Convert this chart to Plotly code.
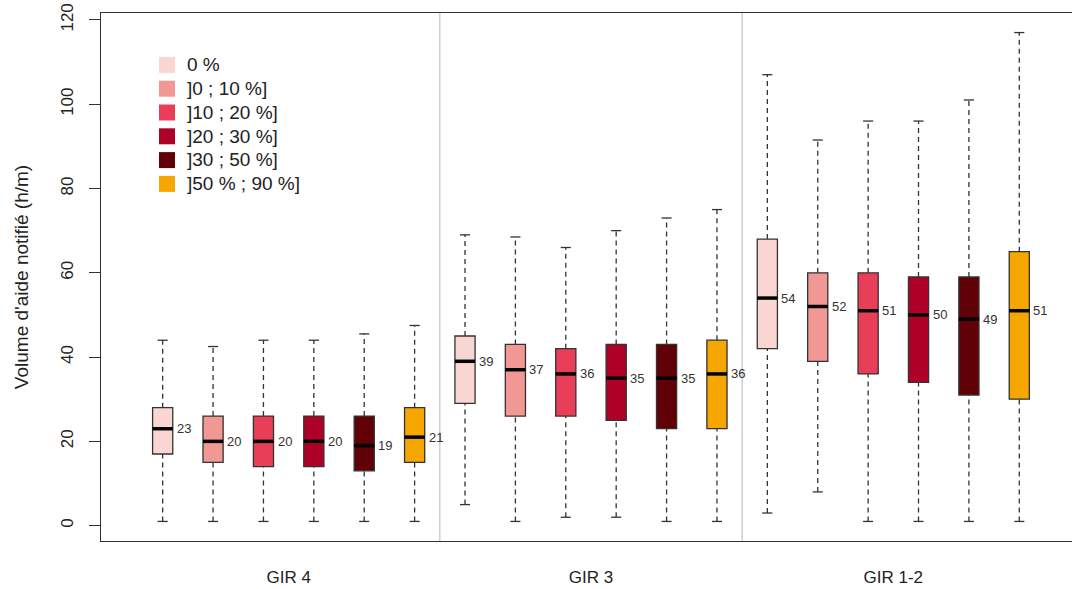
import plotly.graph_objects as go

groups = ["GIR 4", "GIR 3", "GIR 1-2"]
classes = ["0 %", "]0 ; 10 %]", "]10 ; 20 %]", "]20 ; 30 %]", "]30 ; 50 %]", "]50 % ; 90 %]"]
colors = ["#FAD6D3", "#F29894", "#E83E57", "#AF0027", "#620008", "#F5A700"]

# per group, per class (order of classes)
whisker_low = [
    [1, 1, 1, 1, 1, 1],
    [5, 1, 2, 2, 1, 1],
    [3, 8, 1, 1, 1, 1],
]
q1 = [
    [17, 15, 14, 14, 13, 15],
    [29, 26, 26, 25, 23, 23],
    [42, 39, 36, 34, 31, 30],
]
median = [
    [23, 20, 20, 20, 19, 21],
    [39, 37, 36, 35, 35, 36],
    [54, 52, 51, 50, 49, 51],
]
q3 = [
    [28, 26, 26, 26, 26, 28],
    [45, 43, 42, 43, 43, 44],
    [68, 60, 60, 59, 59, 65],
]
whisker_high = [
    [44, 42.5, 44, 44, 45.5, 47.5],
    [69, 68.5, 66, 70, 73, 75],
    [107, 91.5, 96, 96, 101, 117],
]

FONT = "Arial, Liberation Sans, sans-serif"
LINE = "#333333"
nc = len(classes)
half_w = 0.2

fig = go.Figure()

wx, wy, cx, cy, mx, my = [], [], [], [], [], []
annotations = []
for g in range(len(groups)):
    for c in range(nc):
        pos = g * nc + c + 1
        fig.add_trace(go.Box(
            x=[pos], q1=[q1[g][c]], median=[median[g][c]], q3=[q3[g][c]],
            lowerfence=[q1[g][c]], upperfence=[q3[g][c]],
            width=2 * half_w, fillcolor=colors[c],
            line=dict(color=LINE, width=1.3), boxpoints=False,
            showlegend=False, legendgroup=classes[c], name=classes[c],
            hoverinfo="skip",
        ))
        wx += [pos, pos, None, pos, pos, None]
        wy += [whisker_low[g][c], q1[g][c], None, q3[g][c], whisker_high[g][c], None]
        for v in (whisker_low[g][c], whisker_high[g][c]):
            cx += [pos - half_w / 2, pos + half_w / 2, None]
            cy += [v, v, None]
        mx += [pos - half_w, pos + half_w, None]
        my += [median[g][c], median[g][c], None]
        annotations.append(dict(
            x=pos + half_w, y=median[g][c], xref="x", yref="y",
            text=f"{median[g][c]:.0f}", showarrow=False, xanchor="left",
            yanchor="middle", xshift=2, font=dict(family=FONT, size=13, color="#333"),
        ))

fig.add_trace(go.Scatter(x=wx, y=wy, mode="lines", line=dict(color=LINE, width=1.3, dash="5px,4px"),
                         showlegend=False, hoverinfo="skip"))
fig.add_trace(go.Scatter(x=cx, y=cy, mode="lines", line=dict(color=LINE, width=1.3),
                         showlegend=False, hoverinfo="skip"))
fig.add_trace(go.Scatter(x=mx, y=my, mode="lines", line=dict(color="black", width=3.5),
                         showlegend=False, hoverinfo="skip"))

for c in range(nc):
    fig.add_trace(go.Scatter(
        x=[None], y=[None], mode="markers",
        name=f"<span style='font-size:19px'>{classes[c]}</span>",
        legendgroup=classes[c],
        marker=dict(symbol="square", size=18, color=colors[c], line=dict(width=0)),
    ))

shapes = []
for g in range(1, len(groups)):
    xs = g * nc + 0.5
    shapes.append(dict(type="line", xref="x", yref="paper", x0=xs, x1=xs, y0=0, y1=1,
                       line=dict(color="#C4C4C4", width=1.2)))

fig.update_layout(
    width=1072, height=589,
    margin=dict(l=101, r=0, t=13, b=48, autoexpand=False),
    paper_bgcolor="white", plot_bgcolor="white",
    font=dict(family=FONT, color="#222"),
    showlegend=True,
    legend=dict(x=(147 - 101) / 971, y=1 - (48 - 13) / 528,
                xanchor="left", yanchor="top", bgcolor="rgba(0,0,0,0)",
                tracegroupgap=0,
                font=dict(family=FONT, size=16, color="#222"), itemsizing="trace"),
    shapes=shapes,
    annotations=annotations,
    xaxis=dict(
        range=[-0.224, 19.046], showgrid=False, zeroline=False,
        showline=True, linecolor=LINE, linewidth=1.3, mirror=True,
        tickvals=[g * nc + (nc + 1) / 2 for g in range(len(groups))],
        ticktext=groups, ticks="", ticklabelstandoff=20,
        tickfont=dict(family=FONT, size=17, color="#222"),
    ),
    yaxis=dict(
        range=[-3.64, 121.64], showgrid=False, zeroline=False,
        showline=True, linecolor=LINE, linewidth=1.3,
        tickvals=[0, 20, 40, 60, 80, 100, 120], ticks="outside", ticklen=11,
        tickcolor=LINE, tickwidth=1.3, tickangle=-90, ticklabelstandoff=9,
        tickfont=dict(family=FONT, size=17, color="#222"),
        title=dict(text="Volume d'aide notifié (h/m)", standoff=24,
                   font=dict(family=FONT, size=19, color="#222")),
    ),
)

fig.write_html("out.html", config={"displayModeBar": False},
               post_script="document.body.style.margin='0';")
